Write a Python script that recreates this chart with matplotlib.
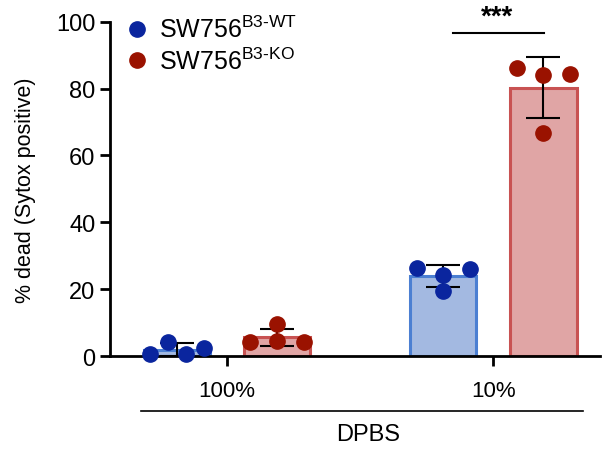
import matplotlib
matplotlib.use('Agg')
import matplotlib.pyplot as plt
from matplotlib.lines import Line2D

plt.rcParams['font.family'] = ['Liberation Sans', 'DejaVu Sans']
plt.rcParams['mathtext.fontset'] = 'custom'
plt.rcParams['mathtext.rm'] = 'Liberation Sans'

# data
groups = ['100%', '10%']
wt_points = [[0.6, 4.2, 0.6, 2.4], [26.4, 24.3, 19.5, 26.1]]
ko_points = [[4.2, 9.6, 4.5, 4.2], [86.2, 84.1, 66.7, 84.4]]
wt_mean = [1.9, 24.0]
wt_sd = [2.0, 3.3]
ko_mean = [5.6, 80.3]
ko_sd = [2.6, 9.2]

wt_jitter = [[-0.10, -0.034, 0.034, 0.10], [-0.10, 0.0, 0.0, 0.10]]
ko_jitter = [[-0.10, 0.0, 0.0, 0.10], [-0.10, 0.0, 0.0, 0.10]]

blue_face = '#a3b9e1'
blue_edge = '#4b7fd2'
blue_dot = '#0a259e'
red_face = '#e0a5a5'
red_edge = '#c85252'
red_dot = '#9a1200'

fig = plt.figure(figsize=(6.07, 4.56), dpi=100)
ax = fig.add_axes([0.181, 0.217, 0.807, 0.733])

off = 0.188
w = 0.25
for i in range(len(groups)):
    for sign, mean, sd, pts, jit, fc, ec, dc in [
            (-1, wt_mean, wt_sd, wt_points, wt_jitter, blue_face, blue_edge, blue_dot),
            (1, ko_mean, ko_sd, ko_points, ko_jitter, red_face, red_edge, red_dot)]:
        x = i + sign * off
        ax.bar(x, mean[i], width=w, color=fc, edgecolor=ec, linewidth=2.2, zorder=2)
        ax.errorbar(x, mean[i], yerr=sd[i], color='black', capsize=12,
                    elinewidth=1.5, capthick=1.5, zorder=3)
        ax.plot([x + j for j in jit[i]], pts[i], 'o', color=dc, markersize=11,
                zorder=4, clip_on=False)

# significance
ax.plot([0.85, 1.19], [96.7, 96.7], color='black', lw=1.5, clip_on=False)
ax.text(1.015, 97.6, '***', ha='center', va='bottom', fontsize=20,
        fontweight='bold', clip_on=False)

ax.set_xlim(-0.44, 1.40)
ax.set_ylim(0, 100)
ax.set_yticks([0, 20, 40, 60, 80, 100])
ax.set_xticks([0, 1])
ax.set_xticklabels(groups)
ax.tick_params(axis='both', width=2, length=7, labelsize=17)
ax.tick_params(axis='x', labelsize=16, pad=10)
for s in ['top', 'right']:
    ax.spines[s].set_visible(False)
for s in ['left', 'bottom']:
    ax.spines[s].set_linewidth(2)
ax.set_ylabel('% dead (Sytox positive)', fontsize=15.5, labelpad=14)

handles = [
    Line2D([], [], marker='o', ls='', color=blue_dot, markersize=11),
    Line2D([], [], marker='o', ls='', color=red_dot, markersize=11),
]
labels = [r'SW756$^{\mathrm{B3\text{-}WT}}$', r'SW756$^{\mathrm{B3\text{-}KO}}$']
ax.legend(handles, labels, loc='upper left', bbox_to_anchor=(0.005, 1.055),
          frameon=False, fontsize=18, handlelength=1.0, handletextpad=0.35,
          labelspacing=0.2, borderaxespad=0.2, borderpad=0.3)

fig.add_artist(Line2D([0.232, 0.960], [0.0965, 0.0965], color='black', lw=1.2))
fig.text(0.606, 0.046, 'DPBS', ha='center', va='center', fontsize=17)

fig.savefig('out.png', dpi=100)
